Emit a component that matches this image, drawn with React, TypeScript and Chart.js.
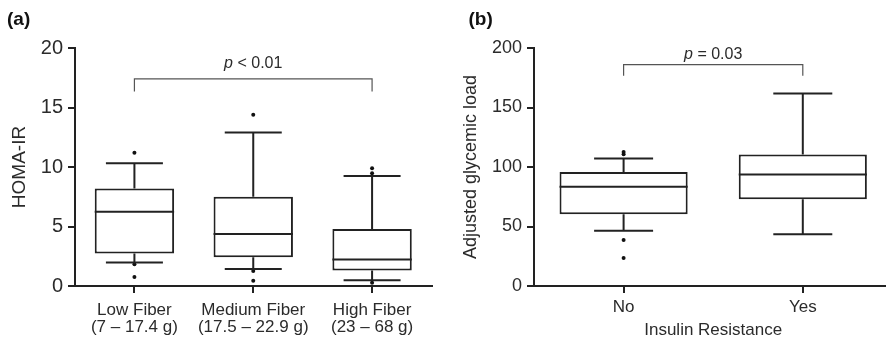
import React, { useEffect, useRef } from 'react';
import { Chart, registerables } from 'chart.js';

Chart.register(...registerables);

// ---------- panel (a): HOMA-IR by fiber intake ----------
const FIBER_GROUPS = ['Low Fiber', 'Medium Fiber', 'High Fiber'];
const FIBER_RANGES = ['(7 – 17.4 g)', '(17.5 – 22.9 g)', '(23 – 68 g)'];
const HOMA_WHISKER_LOW = [1.97, 1.43, 0.48];
const HOMA_Q1 = [2.73, 2.42, 1.3];
const HOMA_MEDIAN = [6.23, 4.36, 2.22];
const HOMA_Q3 = [8.2, 7.5, 4.78];
const HOMA_WHISKER_HIGH = [10.31, 12.89, 9.24];
const HOMA_OUTLIER_GROUPS = [
  'Low Fiber', 'Low Fiber', 'Low Fiber',
  'Medium Fiber', 'Medium Fiber', 'Medium Fiber',
  'High Fiber', 'High Fiber', 'High Fiber',
];
const HOMA_OUTLIER_VALUES = [11.2, 1.83, 0.76, 14.4, 1.26, 0.45, 9.89, 9.47, 0.28];
const HOMA_TICKS = [0, 5, 10, 15, 20];
// bracket: [leg end, bar level, label baseline]
const HOMA_BRACKET = [16.35, 17.4, 18.3];
const HOMA_BRACKET_GROUPS = [0, 2];
const HOMA_P_TEXT = ' < 0.01';

// ---------- panel (b): glycemic load by insulin resistance ----------
const IR_GROUPS = ['No', 'Yes'];
const GL_WHISKER_LOW = [46.5, 43.5];
const GL_Q1 = [60.3, 73];
const GL_MEDIAN = [83.5, 93.6];
const GL_Q3 = [95.9, 110.5];
const GL_WHISKER_HIGH = [107.1, 161.8];
const GL_OUTLIER_GROUPS = ['No', 'No', 'No', 'No'];
const GL_OUTLIER_VALUES = [110.8, 112.7, 38.7, 23.6];
const GL_TICKS = [0, 50, 100, 150, 200];
const GL_BRACKET = [176.7, 186, 190.7];
const GL_BRACKET_GROUPS = [0, 1];
const GL_P_TEXT = ' = 0.03';

const FONT = "'Liberation Sans', Arial, Helvetica, sans-serif";
const LINE = '#222222';
const TEXT = '#2b2b2b';

function boxWhiskerPlugin(low: number[], median: number[], high: number[], capWidth: number) {
  return {
    id: 'boxWhisker',
    afterDatasetsDraw(chart: any) {
      const meta = chart.getDatasetMeta(0);
      const ys = chart.scales.y;
      const ctx = chart.ctx;
      ctx.save();
      ctx.strokeStyle = LINE;
      ctx.lineWidth = 2;
      ctx.lineCap = 'butt';
      meta.data.forEach((bar: any, i: number) => {
        const { x, width } = bar.getProps(['x', 'width'], true);
        const range = chart.data.datasets[0].data[i];
        const q1 = ys.getPixelForValue(range[0]);
        const q3 = ys.getPixelForValue(range[1]);
        const lo = ys.getPixelForValue(low[i]);
        const hi = ys.getPixelForValue(high[i]);
        const md = ys.getPixelForValue(median[i]);
        ctx.beginPath();
        ctx.moveTo(x, q3);
        ctx.lineTo(x, hi);
        ctx.moveTo(x, q1);
        ctx.lineTo(x, lo);
        ctx.moveTo(x - capWidth / 2, hi);
        ctx.lineTo(x + capWidth / 2, hi);
        ctx.moveTo(x - capWidth / 2, lo);
        ctx.lineTo(x + capWidth / 2, lo);
        ctx.moveTo(x - width / 2, md);
        ctx.lineTo(x + width / 2, md);
        ctx.stroke();
      });
      ctx.restore();
    },
  };
}

function bracketPlugin(groups: number[], levels: number[], pText: string) {
  return {
    id: 'pBracket',
    afterDraw(chart: any) {
      const xs = chart.scales.x;
      const ys = chart.scales.y;
      const ctx = chart.ctx;
      const x1 = xs.getPixelForValue(groups[0]);
      const x2 = xs.getPixelForValue(groups[1]);
      const yLeg = ys.getPixelForValue(levels[0]);
      const yBar = ys.getPixelForValue(levels[1]);
      const yText = ys.getPixelForValue(levels[2]);
      ctx.save();
      ctx.strokeStyle = '#555555';
      ctx.lineWidth = 1.2;
      ctx.beginPath();
      ctx.moveTo(x1, yLeg);
      ctx.lineTo(x1, yBar);
      ctx.lineTo(x2, yBar);
      ctx.lineTo(x2, yLeg);
      ctx.stroke();
      ctx.fillStyle = TEXT;
      ctx.textBaseline = 'alphabetic';
      ctx.textAlign = 'left';
      const italic = `italic 16px ${FONT}`;
      const normal = `16px ${FONT}`;
      ctx.font = italic;
      const wp = ctx.measureText('p').width;
      ctx.font = normal;
      const wr = ctx.measureText(pText).width;
      const start = (x1 + x2) / 2 - (wp + wr) / 2;
      ctx.font = italic;
      ctx.fillText('p', start, yText);
      ctx.font = normal;
      ctx.fillText(pText, start + wp, yText);
      ctx.restore();
    },
  };
}

type PanelSpec = {
  left: number;
  width: number;
  labels: string[];
  tickLines: (i: number) => string | string[];
  q1: number[];
  q3: number[];
  median: number[];
  low: number[];
  high: number[];
  outlierGroups: string[];
  outlierValues: number[];
  yTicks: number[];
  yTickSize: number;
  yTitle: string;
  yTitleSize: number;
  yTitlePad: number;
  xTitle?: string;
  yAxisWidth: number;
  padRight: number;
  barPct: number;
  capWidth: number;
  xTickPad: number;
  bracketGroups: number[];
  bracket: number[];
  pText: string;
};

function BoxPanel({ spec }: { spec: PanelSpec }) {
  const ref = useRef<HTMLCanvasElement | null>(null);
  useEffect(() => {
    if (!ref.current) return;
    const s = spec;
    const chart = new Chart(ref.current, {
      type: 'bar',
      data: {
        labels: s.labels,
        datasets: [
          {
            type: 'bar',
            data: s.labels.map((_, i) => [s.q1[i], s.q3[i]]) as any,
            backgroundColor: '#ffffff',
            borderColor: LINE,
            borderWidth: 2,
            borderSkipped: false,
            barPercentage: s.barPct,
            categoryPercentage: 1,
          } as any,
          {
            type: 'scatter',
            data: s.outlierGroups.map((g, i) => ({ x: g, y: s.outlierValues[i] })) as any,
            backgroundColor: '#111111',
            borderWidth: 0,
            pointRadius: 2,
            pointHoverRadius: 2,
          } as any,
        ],
      },
      options: {
        responsive: false,
        animation: false,
        events: [],
        layout: { padding: { top: 48, right: s.padRight, left: 0, bottom: 0 } },
        plugins: {
          legend: { display: false },
          tooltip: { enabled: false },
        },
        scales: {
          x: {
            type: 'category',
            offset: true,
            afterFit: (scale: any) => {
              scale.height = 59;
            },
            grid: {
              display: true,
              offset: false,
              drawOnChartArea: false,
              drawTicks: true,
              tickLength: 7,
              lineWidth: 2,
              color: LINE,
            },
            border: { display: true, width: 2, color: LINE },
            ticks: {
              padding: s.xTickPad,
              color: TEXT,
              maxRotation: 0,
              autoSkip: false,
              font: { family: FONT, size: 17, lineHeight: 1.05 },
              callback: (_v: any, i: number) => s.tickLines(i),
            },
            title: s.xTitle
              ? {
                  display: true,
                  text: s.xTitle,
                  color: TEXT,
                  font: { family: FONT, size: 17, lineHeight: 1.2 },
                  padding: { top: 0, bottom: 4 },
                }
              : { display: false },
          },
          y: {
            min: s.yTicks[0],
            max: s.yTicks[s.yTicks.length - 1],
            afterFit: (scale: any) => {
              scale.width = s.yAxisWidth;
            },
            afterBuildTicks: (scale: any) => {
              scale.ticks = s.yTicks.map((v) => ({ value: v }));
            },
            grid: {
              display: true,
              drawOnChartArea: false,
              drawTicks: true,
              tickLength: 7,
              lineWidth: 2,
              color: LINE,
            },
            border: { display: true, width: 2, color: LINE },
            ticks: {
              padding: 5,
              color: TEXT,
              font: { family: FONT, size: s.yTickSize },
            },
            title: {
              display: true,
              text: s.yTitle,
              color: TEXT,
              font: { family: FONT, size: s.yTitleSize, lineHeight: 1.2 },
              padding: { top: s.yTitlePad, bottom: 0 },
            },
          },
        },
      } as any,
      plugins: [
        boxWhiskerPlugin(s.low, s.median, s.high, s.capWidth),
        bracketPlugin(s.bracketGroups, s.bracket, s.pText),
      ],
    });
    return () => chart.destroy();
  }, [spec]);
  return (
    <canvas
      ref={ref}
      width={spec.width}
      height={345}
      style={{ position: 'absolute', left: spec.left, top: 0, width: spec.width, height: 345 }}
    />
  );
}

const SPEC_A: PanelSpec = {
  left: 0,
  width: 443,
  labels: FIBER_GROUPS,
  tickLines: (i) => [FIBER_GROUPS[i], FIBER_RANGES[i]],
  q1: HOMA_Q1,
  q3: HOMA_Q3,
  median: HOMA_MEDIAN,
  low: HOMA_WHISKER_LOW,
  high: HOMA_WHISKER_HIGH,
  outlierGroups: HOMA_OUTLIER_GROUPS,
  outlierValues: HOMA_OUTLIER_VALUES,
  yTicks: HOMA_TICKS,
  yTickSize: 20,
  yTitle: 'HOMA-IR',
  yTitleSize: 19,
  yTitlePad: 8,
  yAxisWidth: 75,
  padRight: 11.5,
  barPct: 0.668,
  capWidth: 57,
  xTickPad: 8,
  bracketGroups: HOMA_BRACKET_GROUPS,
  bracket: HOMA_BRACKET,
  pText: HOMA_P_TEXT,
};

const SPEC_B: PanelSpec = {
  left: 443,
  width: 460,
  labels: IR_GROUPS,
  tickLines: (i) => IR_GROUPS[i],
  q1: GL_Q1,
  q3: GL_Q3,
  median: GL_MEDIAN,
  low: GL_WHISKER_LOW,
  high: GL_WHISKER_HIGH,
  outlierGroups: GL_OUTLIER_GROUPS,
  outlierValues: GL_OUTLIER_VALUES,
  yTicks: GL_TICKS,
  yTickSize: 18,
  yTitle: 'Adjusted glycemic load',
  yTitleSize: 18,
  yTitlePad: 17,
  xTitle: 'Insulin Resistance',
  yAxisWidth: 91,
  padRight: 10.6,
  barPct: 0.715,
  capWidth: 59,
  xTickPad: 5,
  bracketGroups: GL_BRACKET_GROUPS,
  bracket: GL_BRACKET,
  pText: GL_P_TEXT,
};

const panelLabel: React.CSSProperties = {
  position: 'absolute',
  top: 9,
  fontFamily: FONT,
  fontWeight: 'bold',
  fontSize: 19,
  lineHeight: '19px',
  color: '#111111',
};

export default function App() {
  return (
    <div
      style={{
        position: 'fixed',
        left: 0,
        top: 0,
        width: 886,
        height: 345,
        overflow: 'hidden',
        background: '#ffffff',
      }}
    >
      <BoxPanel spec={SPEC_A} />
      <BoxPanel spec={SPEC_B} />
      <div style={{ ...panelLabel, left: 7 }}>(a)</div>
      <div style={{ ...panelLabel, left: 468.5 }}>(b)</div>
    </div>
  );
}
